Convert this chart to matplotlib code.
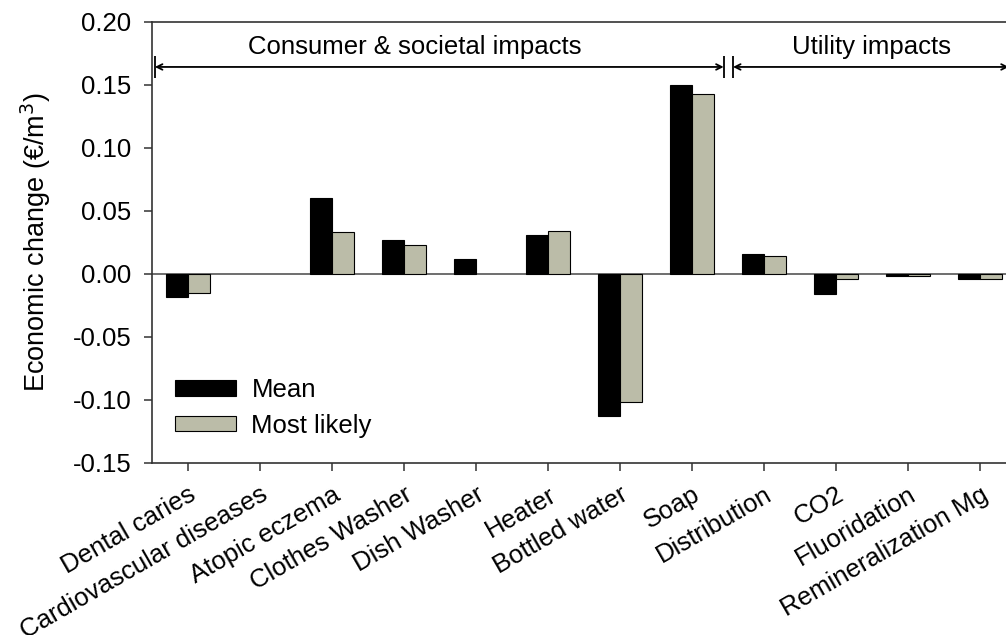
import matplotlib
matplotlib.use('Agg')
import matplotlib.pyplot as plt
import numpy as np
from matplotlib.ticker import FormatStrFormatter

plt.rcParams['font.family'] = ['Liberation Sans', 'DejaVu Sans']
plt.rcParams['axes.unicode_minus'] = False

categories = ['Dental caries', 'Cardiovascular diseases', 'Atopic eczema',
              'Clothes Washer', 'Dish Washer', 'Heater', 'Bottled water', 'Soap',
              'Distribution', 'CO2', 'Fluoridation', 'Remineralization Mg']
mean = [-0.018, 0.0, 0.060, 0.027, 0.012, 0.031, -0.113, 0.150,
        0.016, -0.016, -0.002, -0.004]
most_likely = [-0.015, 0.0, 0.033, 0.023, 0.0, 0.034, -0.102, 0.143,
               0.014, -0.004, -0.002, -0.004]
sections = ['Consumer & societal impacts', 'Utility impacts']

fs = 18.5
fig = plt.figure(figsize=(10.06, 6.35), dpi=100)
ax = fig.add_axes([0.1511, 0.2709, 0.8588, 0.6945])

x = np.arange(len(categories))
w = 0.30
# zero values are not drawn at all in the original
m = np.array(mean, dtype=float)
ml = np.array(most_likely, dtype=float)
m[m == 0] = np.nan
ml[ml == 0] = np.nan
ax.bar(x - w/2, m, w, color='black', edgecolor='black', linewidth=0.8, label='Mean')
ax.bar(x + w/2, ml, w, color='#bbbca8', edgecolor='black', linewidth=0.8, label='Most likely')
ax.axhline(0, color='#555555', linewidth=1.2, zorder=0)

ax.set_xlim(-0.5, 11.5)
ax.set_ylim(-0.15, 0.20)
ax.set_yticks(np.arange(-0.15, 0.201, 0.05))
ax.yaxis.set_major_formatter(FormatStrFormatter('%.2f'))
ax.set_xticks(x)
ax.set_xticklabels(categories, rotation=30, ha='right', rotation_mode='anchor')
ax.tick_params(axis='both', direction='out', length=6, width=1.1, color='#333333',
               labelsize=fs)
ax.tick_params(axis='x', pad=8)
ax.tick_params(axis='y', pad=9)
for s in ax.spines.values():
    s.set_linewidth(1.2)
    s.set_color('#333333')
ax.set_ylabel('Economic change (€/m$^3$)', fontsize=19.5, labelpad=14)

# section arrows
ya = 0.1643
ax.annotate('', xy=(-0.46, ya), xytext=(7.44, ya),
            arrowprops=dict(arrowstyle='<->', color='black', lw=1.3, shrinkA=0, shrinkB=0))
ax.annotate('', xy=(7.57, ya), xytext=(11.4, ya),
            arrowprops=dict(arrowstyle='<->', color='black', lw=1.3, shrinkA=0, shrinkB=0))
ax.vlines([-0.46, 7.44, 7.57], ya - 0.009, ya + 0.009, color='black', lw=1.3)
ax.text(3.15, 0.171, sections[0], ha='center', va='bottom', fontsize=fs)
ax.text(9.5, 0.171, sections[1], ha='center', va='bottom', fontsize=fs)

ax.legend(loc='upper left', bbox_to_anchor=(0.0, 0.245), frameon=False, fontsize=fs,
          handlelength=2.37, handleheight=0.55, handletextpad=0.6, labelspacing=0.45)

fig.savefig('out.png', dpi=100)
